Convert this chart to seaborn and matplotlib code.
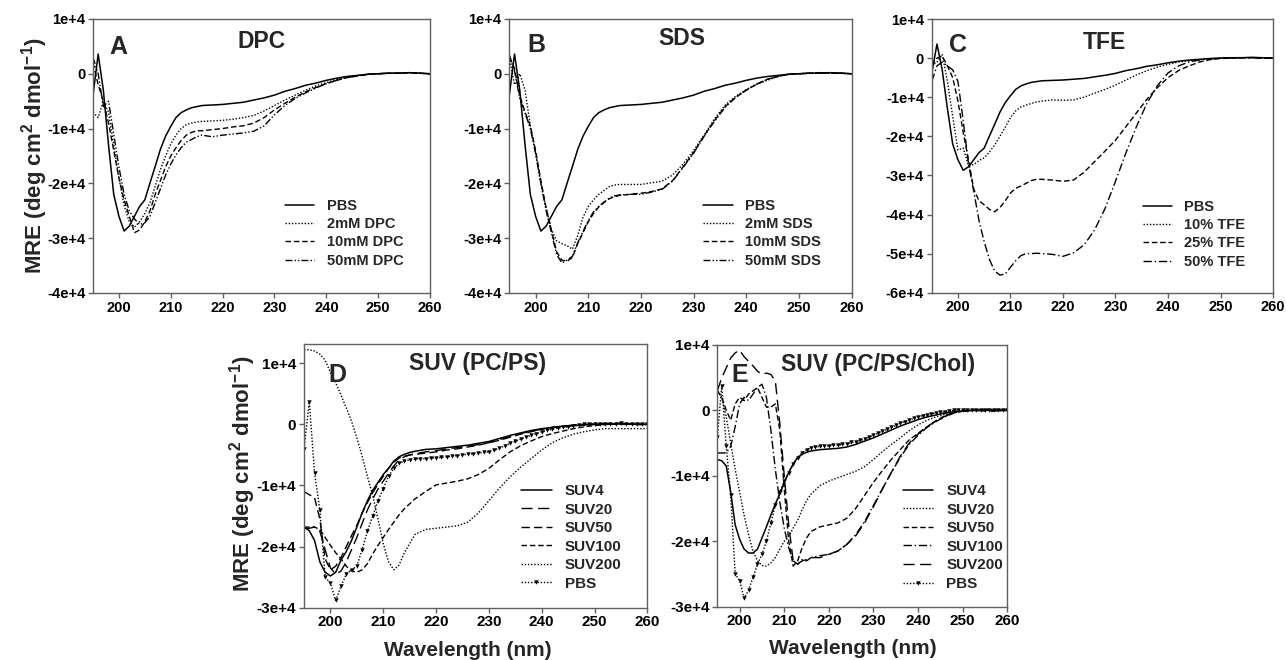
import numpy as np
import pandas as pd
import matplotlib
matplotlib.use("Agg")
import matplotlib.pyplot as plt
import seaborn as sns

# ---------------- data (MRE in units of 1e4 deg cm2 dmol-1) ----------------
WL = [195, 196, 197, 198, 199, 200, 201, 202, 203, 204, 205, 206, 207, 208, 209, 210,
      211, 212, 213, 214, 215, 216, 218, 220, 222, 224, 226, 228, 230, 232, 234, 236,
      238, 240, 242, 244, 246, 248, 250, 252, 254, 256, 258, 260]
WL1 = [195, 196, 197, 198, 199, 200, 201, 202, 203, 204, 205, 206, 207, 208, 209, 210,
       211, 212, 213, 214, 215, 216, 217, 218, 219, 220, 221, 222, 223, 224, 225, 226,
       227, 228, 229, 230, 231, 232, 233, 234, 235, 236, 237, 238, 239, 240, 241, 242,
       243, 244, 245, 246, 247, 248, 249, 250, 251, 252, 253, 254, 255, 256, 257, 258,
       259, 260]

PBS = [-0.4, 0.36, -0.3, -1.3, -2.2, -2.6, -2.87, -2.78, -2.6, -2.42, -2.3, -1.99, -1.69, -1.38,
       -1.14, -0.96, -0.8, -0.71, -0.66, -0.62, -0.6, -0.58,
       -0.57, -0.56, -0.54, -0.52, -0.48, -0.44, -0.39, -0.32, -0.27, -0.21, -0.17, -0.12, -0.08,
       -0.05, -0.03, -0.01, 0.0, 0.01, 0.01, 0.02, 0.01, 0.0]

DPC2 = [-0.7, -0.8, -0.5, -0.7, -1.3, -1.9, -2.4, -2.7, -2.8, -2.7, -2.55, -2.35, -2.05, -1.75,
        -1.5, -1.28, -1.12, -1.0, -0.93, -0.9, -0.88, -0.87,
        -0.86, -0.85, -0.83, -0.8, -0.76, -0.68, -0.58, -0.48, -0.39, -0.3, -0.22, -0.16, -0.1,
        -0.06, -0.03, -0.01, 0.0, 0.01, 0.01, 0.02, 0.01, 0.0]
DPC10 = [0.2, -0.2, -0.5, -0.9, -1.4, -1.9, -2.3, -2.6, -2.9, -2.85, -2.7, -2.5, -2.2, -1.95,
         -1.7, -1.5, -1.35, -1.22, -1.12, -1.07, -1.04, -1.04,
         -1.02, -1.0, -0.97, -0.95, -0.9, -0.8, -0.66, -0.54, -0.43, -0.33, -0.25, -0.18, -0.12,
         -0.07, -0.04, -0.01, 0.0, 0.01, 0.01, 0.02, 0.01, 0.0]
DPC50 = [0.3, 0.0, -0.6, -0.5, -1.1, -1.7, -2.2, -2.5, -2.65, -2.75, -2.72, -2.6, -2.35, -2.1,
         -1.85, -1.65, -1.48, -1.35, -1.25, -1.2, -1.15, -1.12,
         -1.15, -1.12, -1.1, -1.08, -1.05, -0.95, -0.75, -0.58, -0.45, -0.35, -0.26, -0.18, -0.12,
         -0.07, -0.04, -0.01, 0.0, 0.01, 0.01, 0.02, 0.01, 0.0]

SDS2 = [0.3, -0.2, 0.0, -0.3, -0.95, -1.45, -2.0, -2.45, -2.84, -3.05, -3.1, -3.14, -3.2, -2.95,
        -2.62, -2.42, -2.3, -2.2, -2.13, -2.06, -2.03, -2.02,
        -2.02, -2.02, -1.99, -1.96, -1.85, -1.65, -1.4, -1.12, -0.82, -0.57, -0.41, -0.29, -0.19,
        -0.12, -0.05, -0.01, 0.0, 0.01, 0.02, 0.01, 0.01, 0.0]
SDS10 = [0.3, 0.1, -0.4, -0.7, -0.95, -1.4, -1.95, -2.45, -2.85, -3.25, -3.4, -3.42, -3.35, -3.1,
         -2.9, -2.7, -2.55, -2.43, -2.35, -2.28, -2.24, -2.22,
         -2.2, -2.18, -2.15, -2.1, -1.95, -1.7, -1.44, -1.13, -0.85, -0.6, -0.43, -0.3, -0.19,
         -0.1, -0.05, -0.01, 0.0, 0.01, 0.02, 0.01, 0.01, 0.0]
SDS50 = [0.35, 0.05, -0.45, -0.72, -1.0, -1.45, -2.0, -2.5, -2.9, -3.3, -3.45, -3.4, -3.33, -3.08,
         -2.88, -2.68, -2.52, -2.42, -2.34, -2.27, -2.23, -2.21,
         -2.2, -2.2, -2.16, -2.11, -1.96, -1.71, -1.45, -1.14, -0.86, -0.61, -0.43, -0.3, -0.19,
         -0.1, -0.05, -0.01, 0.0, 0.01, 0.02, 0.01, 0.01, 0.0]

TFE10 = [-0.2, -0.1, 0.1, -0.6, -1.5, -2.35, -2.3, -2.75, -2.72, -2.62, -2.55, -2.4, -2.22, -2.0,
         -1.77, -1.52, -1.35, -1.25, -1.2, -1.16, -1.12, -1.1,
         -1.07, -1.08, -1.07, -1.0, -0.9, -0.8, -0.69, -0.56, -0.43, -0.32, -0.23, -0.16, -0.1,
         -0.07, -0.04, -0.02, 0.0, 0.0, 0.01, 0.01, 0.0, 0.0]
TFE25 = [-0.2, 0.0, 0.05, -0.2, -0.5, -1.1, -1.9, -2.6, -3.35, -3.65, -3.75, -3.87, -3.93, -3.82,
         -3.65, -3.45, -3.33, -3.27, -3.2, -3.13, -3.1, -3.1,
         -3.12, -3.15, -3.12, -2.92, -2.65, -2.38, -2.1, -1.75, -1.4, -1.05, -0.75, -0.5, -0.32,
         -0.2, -0.1, -0.04, -0.01, 0.0, 0.01, 0.01, 0.0, 0.0]
TFE50 = [-0.6, -0.2, -0.1, -0.2, -0.3, -0.6, -1.6, -2.7, -3.4, -4.15, -4.7, -5.15, -5.45, -5.55,
         -5.52, -5.35, -5.18, -5.05, -5.0, -5.0, -4.99, -5.0,
         -5.02, -5.07, -4.98, -4.78, -4.4, -3.85, -3.15, -2.42, -1.75, -1.15, -0.7, -0.38, -0.2,
         -0.1, -0.05, -0.02, 0.0, 0.0, 0.01, 0.01, 0.0, 0.0]

D_SUV4 = [-1.68, -1.74, -1.9, -2.25, -2.42, -2.48, -2.42, -2.22, -2.08, -1.9, -1.68, -1.45, -1.25,
          -1.08, -0.95, -0.82, -0.72, -0.6, -0.53, -0.49, -0.46, -0.44,
          -0.41, -0.4, -0.38, -0.36, -0.34, -0.31, -0.28, -0.23, -0.18, -0.14, -0.1, -0.07, -0.05,
          -0.03, -0.02, -0.01, 0.0, 0.0, 0.01, 0.01, 0.0, 0.0]
D_SUV20 = [-1.7, -1.7, -1.68, -1.75, -2.05, -2.35, -2.45, -2.4, -2.25, -2.05, -1.85, -1.62, -1.4,
           -1.22, -1.06, -0.93, -0.8, -0.68, -0.58, -0.53, -0.5, -0.48,
           -0.45, -0.43, -0.4, -0.38, -0.36, -0.33, -0.3, -0.25, -0.2, -0.15, -0.11, -0.08, -0.05,
           -0.03, -0.01, 0.0, 0.01, 0.01, 0.02, 0.01, 0.0, 0.0]
D_SUV50 = [-1.1, -1.15, -1.2, -1.55, -2.2, -2.38, -2.32, -2.18, -2.0, -1.82, -1.65, -1.45, -1.28,
           -1.12, -0.98, -0.85, -0.72, -0.62, -0.55, -0.52, -0.5, -0.49,
           -0.47, -0.45, -0.42, -0.4, -0.37, -0.34, -0.3, -0.26, -0.21, -0.16, -0.12, -0.08, -0.05,
           -0.03, -0.02, -0.01, 0.0, 0.0, 0.01, 0.01, 0.0, 0.0]
D_SUV100 = [-1.68, -1.68, -1.68, -1.72, -1.85, -1.98, -2.1, -2.2, -2.32, -2.4, -2.42, -2.38, -2.28,
            -2.12, -1.98, -1.85, -1.72, -1.6, -1.48, -1.38, -1.3, -1.22,
            -1.1, -0.99, -0.96, -0.93, -0.89, -0.82, -0.72, -0.58, -0.45, -0.35, -0.27, -0.2, -0.15,
            -0.11, -0.07, -0.04, -0.02, 0.0, 0.0, 0.0, 0.0, 0.0]
D_SUV200 = [1.22, 1.22, 1.2, 1.15, 1.05, 0.85, 0.68, 0.48, 0.27, 0.05, -0.22, -0.52, -0.85,
            -1.16, -1.55, -1.95, -2.25, -2.38, -2.3, -2.1, -1.95, -1.8,
            -1.72, -1.7, -1.68, -1.66, -1.6, -1.45, -1.25, -1.04, -0.86, -0.7, -0.56, -0.42, -0.3,
            -0.22, -0.16, -0.12, -0.09, -0.07, -0.07, -0.07, -0.07, -0.07]
D_PBS = [-0.4, 0.37, -0.8, -1.4, -2.5, -2.6, -2.88, -2.65, -2.45, -2.38, -2.32, -2.05, -1.75, -1.5,
         -1.25, -1.05, -0.85, -0.72, -0.64, -0.6, -0.58, -0.57, -0.56, -0.56, -0.55, -0.55,
         -0.54, -0.53, -0.52, -0.51, -0.5, -0.49, -0.48, -0.47, -0.46, -0.45, -0.42, -0.39,
         -0.35, -0.31, -0.28, -0.24, -0.21, -0.18, -0.15, -0.12, -0.1, -0.08, -0.06, -0.05,
         -0.04, -0.02, -0.01, 0.0, 0.0, 0.0, 0.01, 0.01, 0.0, 0.01, 0.02, 0.01, 0.0, 0.0, 0.0, 0.0]

E_SUV4 = [-0.75, -0.77, -0.85, -1.25, -1.75, -1.97, -2.12, -2.18, -2.18, -2.12, -1.95, -1.78, -1.6,
          -1.43, -1.28, -1.1, -0.95, -0.82, -0.72, -0.67, -0.64, -0.62,
          -0.6, -0.59, -0.58, -0.56, -0.52, -0.47, -0.42, -0.36, -0.3, -0.24, -0.19, -0.14, -0.1,
          -0.07, -0.04, -0.02, -0.01, 0.0, 0.0, 0.01, 0.0, 0.0]
E_SUV20 = [0.3, 0.2, -0.1, -0.5, -0.9, -1.25, -1.6, -1.9, -2.15, -2.3, -2.37, -2.38, -2.33, -2.25,
           -2.12, -2.0, -1.92, -1.8, -1.68, -1.52, -1.38, -1.28,
           -1.15, -1.08, -1.03, -0.98, -0.93, -0.86, -0.75, -0.63, -0.52, -0.42, -0.31, -0.22,
           -0.15, -0.1, -0.06, -0.03, -0.01, 0.0, 0.0, 0.0, 0.0, 0.0]
E_SUV50 = [0.3, 0.2, 0.0, -0.15, 0.1, 0.2, 0.15, 0.25, 0.3, 0.35, 0.2, 0.05, 0.05, 0.1, -0.3,
           -1.2, -2.0, -2.38, -2.3, -2.1, -1.95, -1.85,
           -1.78, -1.75, -1.72, -1.65, -1.5, -1.3, -1.1, -0.92, -0.75, -0.6, -0.45, -0.35, -0.25,
           -0.16, -0.08, -0.03, 0.0, 0.0, 0.0, 0.0, 0.0, 0.0]
E_SUV100 = [-0.65, -0.65, -0.65, -0.55, -0.25, 0.1, 0.2, 0.15, 0.25, 0.35, 0.4, 0.2, -0.3, -0.9,
            -1.4, -1.8, -2.1, -2.3, -2.35, -2.28, -2.3, -2.25,
            -2.22, -2.2, -2.15, -2.05, -1.9, -1.7, -1.45, -1.2, -0.95, -0.72, -0.52, -0.38, -0.26,
            -0.17, -0.1, -0.04, -0.01, 0.0, 0.0, 0.0, 0.0, 0.0]
E_SUV200 = [0.3, 0.5, 0.65, 0.8, 0.88, 0.92, 0.82, 0.75, 0.68, 0.6, 0.55, 0.57, 0.55, 0.45, -0.2,
            -1.0, -1.75, -2.3, -2.35, -2.3, -2.28, -2.25,
            -2.25, -2.2, -2.15, -2.05, -1.92, -1.72, -1.47, -1.2, -0.95, -0.7, -0.5, -0.36, -0.25,
            -0.16, -0.09, -0.04, -0.01, 0.0, 0.0, -0.02, 0.0, 0.0]
E_PBS = [-0.4, 0.38, -0.55, -1.3, -2.5, -2.6, -2.87, -2.75, -2.55, -2.35, -2.2, -2.0, -1.72, -1.45,
         -1.25, -1.08, -0.95, -0.82, -0.72, -0.65, -0.6, -0.57, -0.56, -0.55, -0.55, -0.54,
         -0.53, -0.53, -0.52, -0.51, -0.49, -0.48, -0.46, -0.44, -0.41, -0.38, -0.35, -0.32,
         -0.29, -0.26, -0.23, -0.2, -0.17, -0.15, -0.12, -0.1, -0.08, -0.07, -0.05, -0.04,
         -0.03, -0.02, -0.01, 0.0, 0.0, 0.0, 0.0, 0.01, 0.0, 0.0, 0.01, 0.0, 0.0, 0.0, 0.0, 0.0]

X_TICKS = [200, 210, 220, 230, 240, 250, 260]
Y_TICKS_AB = [1e4, 0, -1e4, -2e4, -3e4, -4e4]
Y_LABELS_AB = ["1e+4", "0", "-1e+4", "-2e+4", "-3e+4", "-4e+4"]
Y_TICKS_C = [1e4, 0, -1e4, -2e4, -3e4, -4e4, -5e4, -6e4]
Y_LABELS_C = ["1e+4", "0", "-1e+4", "-2e+4", "-3e+4", "-4e+4", "-5e+4", "-6e+4"]
Y_TICKS_DE = [1e4, 0, -1e4, -2e4, -3e4]
Y_LABELS_DE = ["1e+4", "0", "-1e+4", "-2e+4", "-3e+4"]

# ---------------- style ----------------
sns.set_theme(style="ticks")
plt.rcParams['font.family'] = ['Liberation Sans', 'DejaVu Sans']
plt.rcParams['font.weight'] = 'bold'
plt.rcParams['mathtext.fontset'] = 'custom'
plt.rcParams['mathtext.rm'] = 'Liberation Sans:bold'
plt.rcParams['mathtext.it'] = 'Liberation Sans:bold'
plt.rcParams['mathtext.bf'] = 'Liberation Sans:bold'
plt.rcParams['mathtext.default'] = 'rm'

FRAME = '#606060'
SOLID = '-'
DOT = (0, (1, 1.3))
DASH = (0, (4, 2))
DASHDOTDOT = (0, (5, 1.5, 1, 1.5, 1, 1.5))
DASHDOT = (0, (6, 2, 1, 2))
LONG = (0, (8, 4))
MED = (0, (6, 3))

fig = plt.figure(figsize=(12.86, 6.6), dpi=100)


def make_ax(rect, ylim, yticks, ylabels, tick_fs):
    ax = fig.add_axes(rect)
    ax.set_xlim(195, 260)
    ax.set_ylim(*ylim)
    ax.set_xticks(X_TICKS)
    ax.set_xticklabels([str(t) for t in X_TICKS])
    ax.set_yticks(yticks)
    ax.set_yticklabels(ylabels)
    for s in ax.spines.values():
        s.set_visible(True)
        s.set_color(FRAME)
        s.set_linewidth(1.0)
    ax.tick_params(axis='both', direction='out', length=3.5, width=1.0, color=FRAME,
                   labelsize=tick_fs, pad=2, labelcolor='black')
    for lab in ax.get_xticklabels() + ax.get_yticklabels():
        lab.set_fontweight('bold')
    ax.set_xlabel('')
    ax.set_ylabel('')
    return ax


def draw(ax, wl, vals, name, ls, lw=1.0, marker=None):
    df = pd.DataFrame({'wl': wl, 'mre': np.array(vals) * 1e4})
    kw = dict(color='black', linewidth=lw, linestyle=ls, label=name)
    if marker:
        kw.update(marker=marker, markersize=3.2, markeredgewidth=0, markerfacecolor='black')
    sns.lineplot(data=df, x='wl', y='mre', ax=ax, **kw)
    ax.set_xlabel('')
    ax.set_ylabel('')


def legend(ax, x, y, fs):
    ax.legend(loc='upper left', bbox_to_anchor=(x, y), frameon=False,
              handlelength=2.0, handletextpad=0.85, labelspacing=0.3, borderpad=0,
              borderaxespad=0, prop={'weight': 'bold', 'size': fs})


def label(ax, letter, lx, ly, title, tx, ty):
    ax.text(lx, ly, letter, transform=ax.transAxes, ha='center', va='center',
            fontsize=18, fontweight='bold')
    ax.text(tx, ty, title, transform=ax.transAxes, ha='center', va='center',
            fontsize=16.5, fontweight='bold')


YLAB = r'MRE (deg cm$^{2}$ dmol$^{-1}$)'

# Panel A
axA = make_ax([0.0723, 0.5561, 0.2621, 0.4152], (-4e4, 1e4), Y_TICKS_AB, Y_LABELS_AB, 10.5)
draw(axA, WL, PBS, 'PBS', SOLID, 1.1)
draw(axA, WL, DPC2, '2mM DPC', DOT)
draw(axA, WL, DPC10, '10mM DPC', DASH)
draw(axA, WL, DPC50, '50mM DPC', DASHDOTDOT)
legend(axA, 0.57, 0.344, 10.5)
label(axA, 'A', 0.074, 0.898, 'DPC', 0.50, 0.916)
axA.set_ylabel(YLAB, fontsize=16, fontweight='bold')
axA.yaxis.set_label_coords(-0.128, 0.5)

# Panel B
axB = make_ax([0.396, 0.5561, 0.2662, 0.4152], (-4e4, 1e4), Y_TICKS_AB, Y_LABELS_AB, 10.5)
draw(axB, WL, PBS, 'PBS', SOLID, 1.1)
draw(axB, WL, SDS2, '2mM SDS', DOT)
draw(axB, WL, SDS10, '10mM SDS', DASH)
draw(axB, WL, SDS50, '50mM SDS', DASHDOTDOT)
legend(axB, 0.567, 0.344, 10.5)
label(axB, 'B', 0.08, 0.905, 'SDS', 0.503, 0.93)

# Panel C
axC = make_ax([0.7245, 0.5565, 0.2654, 0.4147], (-6e4, 1e4), Y_TICKS_C, Y_LABELS_C, 10.5)
draw(axC, WL, PBS, 'PBS', SOLID, 1.1)
draw(axC, WL, TFE10, '10% TFE', DOT)
draw(axC, WL, TFE25, '25% TFE', DASH)
draw(axC, WL, TFE50, '50% TFE', DASHDOT)
legend(axC, 0.618, 0.34, 10.5)
label(axC, 'C', 0.078, 0.905, 'TFE', 0.505, 0.913)

# Panel D
axD = make_ax([0.2364, 0.0792, 0.267, 0.3991], (-3e4, 1.31e4), Y_TICKS_DE, Y_LABELS_DE, 11)
draw(axD, WL, D_SUV4, 'SUV4', SOLID, 1.1)
draw(axD, WL, D_SUV20, 'SUV20', LONG)
draw(axD, WL, D_SUV50, 'SUV50', MED)
draw(axD, WL, D_SUV100, 'SUV100', DASH)
draw(axD, WL, D_SUV200, 'SUV200', DOT)
draw(axD, WL1, D_PBS, 'PBS', DOT, marker='v')
legend(axD, 0.632, 0.47, 11)
label(axD, 'D', 0.097, 0.883, 'SUV (PC/PS)', 0.505, 0.928)
axD.set_ylabel(YLAB, fontsize=16, fontweight='bold')
axD.yaxis.set_label_coords(-0.134, 0.51)
axD.set_xlabel('Wavelength (nm)', fontsize=15, fontweight='bold')
axD.xaxis.set_label_coords(0.478, -0.125)

# Panel E
axE = make_ax([0.5578, 0.0808, 0.2255, 0.3965], (-3e4, 1e4), Y_TICKS_DE, Y_LABELS_DE, 11)
draw(axE, WL, E_SUV4, 'SUV4', SOLID, 1.1)
draw(axE, WL, E_SUV20, 'SUV20', DOT)
draw(axE, WL, E_SUV50, 'SUV50', DASH)
draw(axE, WL, E_SUV100, 'SUV100', DASHDOT)
draw(axE, WL, E_SUV200, 'SUV200', LONG)
draw(axE, WL1, E_PBS, 'PBS', DOT, marker='v')
legend(axE, 0.64, 0.469, 11)
label(axE, 'E', 0.078, 0.885, 'SUV (PC/PS/Chol)', 0.555, 0.926)
axE.set_xlabel('Wavelength (nm)', fontsize=15, fontweight='bold')
axE.xaxis.set_label_coords(0.468, -0.125)

fig.savefig('out.png', dpi=100, facecolor='white')
